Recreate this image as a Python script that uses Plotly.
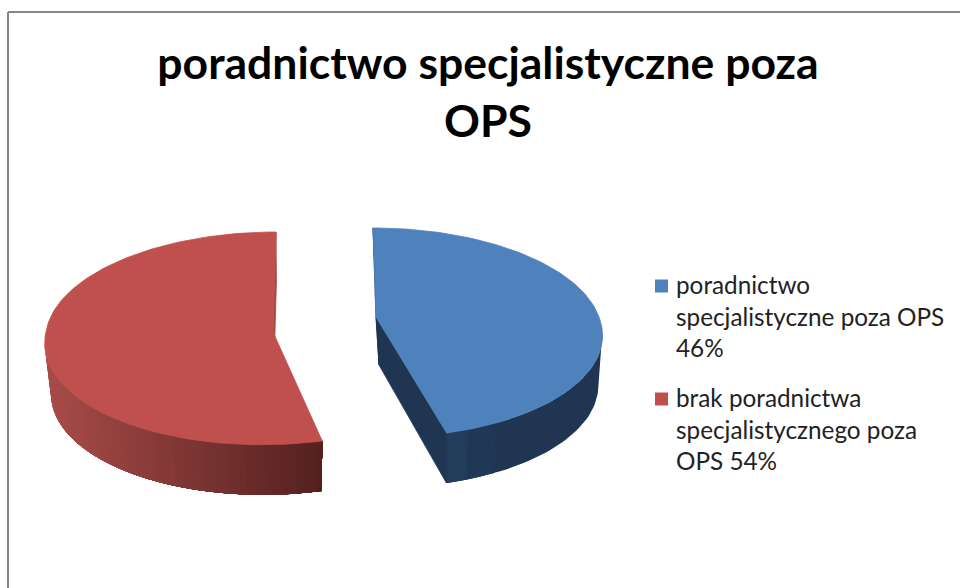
import math
import plotly.graph_objects as go

TITLE = "poradnictwo specjalistyczne poza<br>OPS"
categories = ["poradnictwo specjalistyczne poza OPS", "brak poradnictwa specjalistycznego poza OPS"]
legend_labels = ["poradnictwo<br>specjalistyczne poza OPS<br>46%", "brak poradnictwa<br>specjalistycznego poza<br>OPS 54%"]
values = [46, 54]
top_colors = ["#4F81BD", "#C0504D"]

# projection settings of each exploded slice
BLUE = dict(ax=376, ay=317, rx=223, ry=102.4, k=0.15, sb=3, sf=6, shrink=0.975, dx=1.5, depth=50)
RED = dict(ax=273, ay=332, rx=227, ry=106, k=0.06, sb=-3, sf=-11, shrink=0.975, dx=0.5, depth=50)


def top(p, deg):
    t = math.radians(deg)
    u, v = math.sin(t), -math.cos(t)
    w = 1 / (1 - p["k"] * v)
    x = p["ax"] + p["rx"] * u * w + (p["sf"] * v if v > 0 else p["sb"] * v)
    y = p["ay"] + p["ry"] * v * w
    return x, y


def bottom(p, deg):
    x, y = top(p, deg)
    return p["ax"] + p["dx"] + (x - p["ax"]) * p["shrink"], y + p["depth"]


def mix(a, b, f):
    ca = [int(a[i:i + 2], 16) for i in (1, 3, 5)]
    cb = [int(b[i:i + 2], 16) for i in (1, 3, 5)]
    return "#%02x%02x%02x" % tuple(round(x + (y - x) * f) for x, y in zip(ca, cb))


def poly(pts, color, width=0.8):
    xs = [q[0] for q in pts] + [pts[0][0]]
    ys = [q[1] for q in pts] + [pts[0][1]]
    return go.Scatter(x=xs, y=ys, mode="lines", fill="toself", fillcolor=color,
                      line=dict(color=color, width=width), hoverinfo="skip", showlegend=False)


def arc(a, b, n=120):
    return [a + (b - a) * i / n for i in range(n + 1)]


def wall(p, a, b):
    ring = arc(a, b, 40)
    return [top(p, q) for q in ring] + [bottom(p, q) for q in reversed(ring)]


fig = go.Figure()
blue_end = 360 * values[0] / sum(values)

# red slice: outer wall with a left-to-right gradient (each band painted over the previous one)
steps = 64
red_start = 263
for i in range(steps):
    a0 = red_start + (blue_end - red_start) * i / steps
    f = (top(RED, a0)[0] - 44) / (322 - 44)
    fig.add_trace(poly(wall(RED, a0, blue_end), mix("#A84C49", "#53201E", max(0, f)), 0))
fig.add_trace(poly([top(RED, 360), bottom(RED, 360), (RED["ax"] + RED["dx"], RED["ay"] + RED["depth"]),
                    (RED["ax"], RED["ay"])], "#A34745"))
apex = (RED["ax"], RED["ay"])
fig.add_trace(poly([apex] + [top(RED, a) for a in arc(blue_end, 360)], top_colors[1]))

# blue slice: walls then top
fig.add_trace(poly(wall(BLUE, 98, blue_end), "#1F3552", 0))
fig.add_trace(poly(wall(BLUE, blue_end - 12, blue_end), "#203755", 0))
fig.add_trace(poly(wall(BLUE, blue_end - 5, blue_end), "#233C5C", 0))
apex = (BLUE["ax"], BLUE["ay"])
apex_low = (BLUE["ax"] + 3, BLUE["ay"] + 48)
fig.add_trace(poly([apex, top(BLUE, blue_end), bottom(BLUE, blue_end), apex_low], "#1F3552"))
fig.add_trace(poly([top(BLUE, 0), apex, apex_low], "#1F3552"))
fig.add_trace(poly([apex] + [top(BLUE, a) for a in arc(0, blue_end)], top_colors[0]))

# legend swatches drawn as square markers, labels as annotations
marker_x = [661.5, 661.5]
marker_y = [286, 399]
label_y = [316, 429]
fig.add_trace(go.Scatter(x=marker_x, y=marker_y, mode="markers", hoverinfo="skip", showlegend=False,
                         marker=dict(symbol="square", size=13, color=top_colors, line=dict(width=0))))
annotations = [
    dict(text=label, x=674, y=ly, xref="x", yref="y", xanchor="left", yanchor="middle", align="left",
         showarrow=False, font=dict(family="Lato", size=24.3, color="#222222"))
    for label, ly in zip(legend_labels, label_y)
]

fig.update_layout(
    width=960, height=588, margin=dict(l=0, r=0, t=0, b=0),
    paper_bgcolor="white", plot_bgcolor="white", autosize=False, showlegend=False,
    title=dict(text=TITLE, x=488 / 960, xanchor="center", y=1 - 79 / 588, yanchor="middle",
               font=dict(family="Lato", size=44.5, color="black", weight="bold")),
    xaxis=dict(range=[0, 960], visible=False, fixedrange=True),
    yaxis=dict(range=[588, 0], visible=False, fixedrange=True),
    annotations=annotations,
    shapes=[
        dict(type="line", x0=8, x1=960, y0=12, y1=12, line=dict(color="#868686", width=2)),
        dict(type="line", x0=8, x1=8, y0=12, y1=588, line=dict(color="#868686", width=2)),
    ],
)
fig.write_html("out.html", config={"displayModeBar": False}, post_script="document.body.style.margin='0';")
